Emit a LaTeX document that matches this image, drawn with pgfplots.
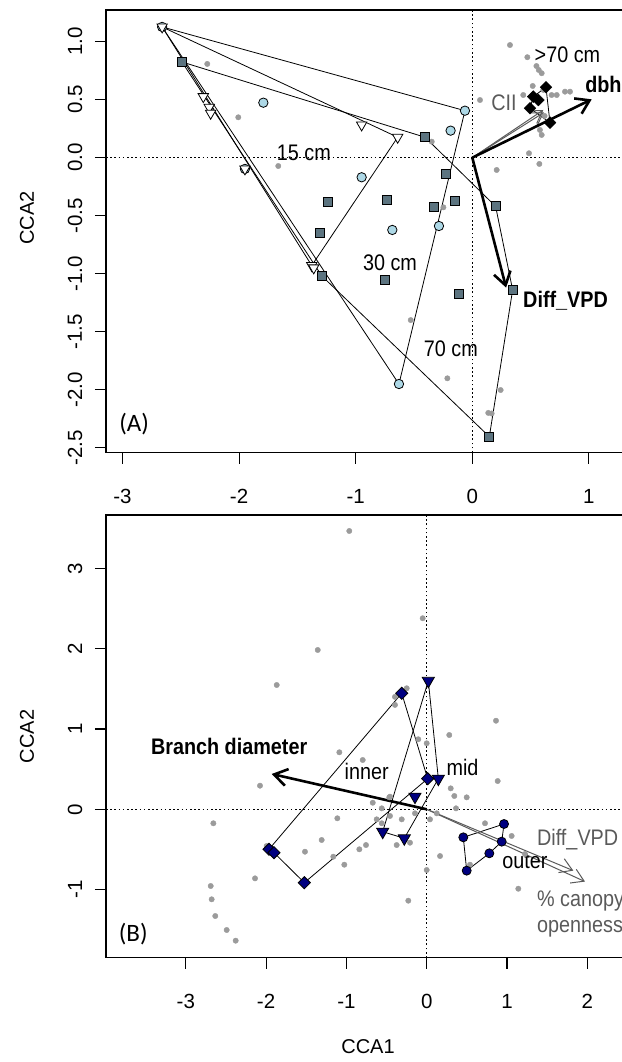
\documentclass[border=0pt]{standalone}
\usepackage{fontspec}
\setmainfont{Liberation Sans}
\newfontfamily\narrowfont[FakeStretch=0.88]{Liberation Sans}
\newfontfamily\panelfont{Carlito}
\usepackage{pgfplots}
\pgfplotsset{compat=1.18}
\usetikzlibrary{arrows.meta}

\definecolor{ptgray}{RGB}{155,155,155}
\definecolor{lblue}{RGB}{173,216,230}
\definecolor{slate}{RGB}{92,116,128}
\definecolor{navyb}{RGB}{0,0,128}
\definecolor{txtgray}{RGB}{90,90,90}

\tikzset{
  lab/.style={font=\narrowfont\fontsize{22.5}{22.5}\selectfont},
  blab/.style={font=\narrowfont\bfseries\fontsize{22.5}{22.5}\selectfont},
}

\pgfplotsset{
  cca/.style={
    scale only axis, width=524pt, height=442.7pt, anchor=south west,
    clip=false, axis line style={line width=1.1pt},
    tick align=outside, major tick length=11pt,
    xtick pos=left, ytick pos=left,
    tick style={line width=1.1pt, black},
    tick label style={font=\fontsize{20.5}{20.5}\selectfont},
    xticklabel style={anchor=center, yshift=-33pt},
    yticklabel style={xshift=-20pt, rotate=90, anchor=center},
    every axis y label/.style={at={(rel axis cs:0,0.5)}, xshift=-79pt, rotate=90, anchor=center, font=\fontsize{20}{20}\selectfont},
    every axis x label/.style={at={(rel axis cs:0.5,0)}, yshift=-89pt, anchor=center, font=\fontsize{20}{20}\selectfont},
    ylabel={CCA2},
  },
  gpt/.style={only marks, mark=*, mark size=2.7pt, color=ptgray, mark options={draw=none, fill=ptgray}},
  hull/.style={black, line width=0.8pt, mark=none},
  bigarrow/.style={black, line width=2.6pt, mark=none, -{Straight Barb[length=13pt,width=17pt]}},
  grayarrow/.style={txtgray, line width=1pt, mark=none, -{Straight Barb[length=12pt,width=15pt]}},
  zero/.style={black, line width=0.9pt, mark=none, dash pattern=on 1.6pt off 2.6pt},
}

\begin{document}
\begin{tikzpicture}[x=1pt,y=1pt]
\path[use as bounding box] (0,0) rectangle (621,1062);

% ---------------- panel A ----------------
\begin{axis}[cca, at={(106pt,609.3pt)},
  xmin=-3.1415, xmax=1.3525, ymin=-2.543, ymax=1.273,
  xtick={-3,-2,-1,0,1}, xticklabels={-3,-2,-1,0,1},
  ytick={-2.5,-2,-1.5,-1,-0.5,0,0.5,1},
  yticklabels={-2.5,-2.0,-1.5,-1.0,-0.5,0.0,0.5,1.0},
  every axis y label/.append style={at={(rel axis cs:0,0.53)}}]

\addplot[zero] coordinates {(-3.1415,0) (1.3525,0)};
\addplot[zero] coordinates {(0,-2.543) (0,1.273)};

% sample scores
\addplot[gpt] coordinates {
 (-2.273,0.808) (-2.007,0.348) (-1.664,-0.072) (-0.348,0.138) (-0.248,-0.428)
 (-0.528,-1.40) (-0.214,-1.902) (0.243,-2.003) (0.137,-2.20) (0.166,-2.205)
 (0.323,0.971) (0.472,0.866) (0.55,0.79) (0.57,0.756) (0.595,0.728)
 (0.437,0.54) (0.68,0.54) (0.724,0.54) (0.795,0.569) (0.838,0.569)
 (0.066,0.497) (0.58,0.239) (0.595,0.196) (0.486,0.038) (0.575,-0.054)
 (0.209,-0.106) (0.518,0.618) (0.609,0.584) (0.575,0.497) (0.62,0.36)
};

% group markers
\addplot[only marks, mark=*, mark size=4.7pt, mark options={fill=lblue, draw=black, line width=0.8pt}] coordinates {
 (-2.66,1.127) (-1.792,0.474) (-1.95,-0.097) (-0.063,0.405) (-0.186,0.233)
 (-0.949,-0.169) (-0.686,-0.623) (-0.286,-0.589) (-0.629,-1.951)
};
\addplot[only marks, mark=square*, mark size=4.5pt, mark options={fill=slate, draw=black, line width=0.8pt}] coordinates {
 (-2.49,0.825) (-1.235,-0.385) (-1.306,-0.652) (-0.729,-0.365) (-0.328,-0.428)
 (-0.226,-0.14) (-0.405,0.176) (-1.29,-1.02) (-0.749,-1.054) (0.2,-0.42)
 (-0.148,-0.37) (-0.111,-1.175) (0.346,-1.14) (0.146,-2.405)
};
\addplot[only marks, mark=triangle*, mark size=6pt, mark options={fill=white, draw=black, line width=0.8pt, rotate=180}] coordinates {
 (-2.66,1.127) (-2.307,0.526) (-2.256,0.434) (-2.244,0.383) (-1.95,-0.097)
 (-1.377,-0.93) (-1.36,-0.95) (-0.949,0.282) (-0.64,0.176)
};
\addplot[only marks, mark=square*, mark size=4.2pt, mark options={fill=black, draw=black, rotate=45}] coordinates {
 (0.632,0.607) (0.523,0.526) (0.566,0.497) (0.495,0.426) (0.666,0.302)
};

% hulls
\addplot[hull] coordinates {(-2.66,1.127) (-0.64,0.176) (-1.377,-0.93) (-2.66,1.127)};
\addplot[hull] coordinates {(-2.66,1.127) (-0.063,0.405) (-0.629,-1.951) (-2.66,1.127)};
\addplot[hull] coordinates {(-2.49,0.825) (-0.405,0.176) (0.2,-0.42) (0.346,-1.14) (0.146,-2.405) (-1.29,-1.02) (-2.49,0.825)};
\addplot[hull] coordinates {(0.632,0.607) (0.666,0.302) (0.495,0.426) (0.523,0.526) (0.632,0.607)};

% environmental vectors
\addplot[grayarrow] coordinates {(0,0) (0.609,0.411)};
\addplot[grayarrow] coordinates {(0,0) (0.615,0.39)};
\addplot[bigarrow] coordinates {(0,0) (1.024,0.503)};
\addplot[bigarrow] coordinates {(0,0) (0.29,-1.12)};

\node[lab] at (axis cs:-1.445,0.045) {15 cm};
\node[lab] at (axis cs:-0.706,-0.91) {30 cm};
\node[lab] at (axis cs:-0.184,-1.651) {70 cm};
\node[lab] at (axis cs:0.816,0.885) {>70 cm};
\node[lab, text=txtgray] at (axis cs:0.272,0.471) {CII};
\node[blab, anchor=west, inner sep=0pt] at (axis cs:0.967,0.627) {dbh};
\node[blab, anchor=west, inner sep=0pt] at (axis cs:0.435,-1.235) {Diff\_VPD};
\node[font=\panelfont\fontsize{25}{25}\selectfont] at (axis cs:-2.90,-2.30) {(A)};
\end{axis}

% ---------------- panel B ----------------
\begin{axis}[cca, at={(106pt,104.3pt)},
  xmin=-3.994, xmax=2.532, ymin=-1.848, ymax=3.665,
  xtick={-3,-2,-1,0,1,2}, xticklabels={-3,-2,-1,0,1,2},
  ytick={-1,0,1,2,3}, yticklabels={-1,0,1,2,3},
  xlabel={CCA1}]

\addplot[zero] coordinates {(-3.994,0) (2.532,0)};
\addplot[zero] coordinates {(0,-1.848) (0,3.665)};

\addplot[gpt] coordinates {
 (-1.357,1.984) (-1.868,1.548) (-1.088,0.71) (-2.076,0.294) (-0.05,2.379)
 (-0.249,1.507) (-0.395,1.40) (-0.395,1.30) (0.863,1.103) (0.281,0.925)
 (-0.105,0.872) (0.0,0.822) (-0.797,0.614) (0.884,0.352) (0.299,0.261)
 (0.344,0.166) (0.498,0.149) (-0.466,0.149) (-0.672,0.082) (-0.56,0.012)
 (0.365,0.012) (-2.657,-0.174) (-1.113,-0.112) (-0.623,-0.125) (-0.56,-0.174)
 (-0.311,-0.125) (0.041,-0.125) (0.726,-0.174) (1.058,-0.332) (-1.308,-0.382)
 (-0.756,-0.445) (-0.839,-0.498) (-0.374,-0.445) (-0.208,-0.416) (-1.516,-0.528)
 (-1.163,-0.59) (0.166,-0.582) (0.539,-0.69) (-1.026,-0.69) (0.0,-0.756)
 (-2.138,-0.86) (1.141,-0.989) (-2.69,-0.955) (-2.678,-1.121) (-2.633,-1.329)
 (-2.491,-1.503) (-2.379,-1.636) (-0.229,-1.138) (-1.993,-0.457) (-0.457,-0.083)
 (-0.146,-0.05) (0.125,-0.05) (1.224,-0.557) (-0.964,3.466) (-0.457,0.157)
};

\addplot[only marks, mark=square*, mark size=4.3pt, mark options={fill=navyb, draw=black, line width=0.8pt, rotate=45}] coordinates {
 (-0.311,1.445) (0.012,0.381) (-1.964,-0.498) (-1.902,-0.54) (-1.524,-0.914)
};
\addplot[only marks, mark=triangle*, mark size=7pt, mark options={fill=navyb, draw=black, line width=0.8pt, rotate=180}] coordinates {
 (0.02,1.60) (0.145,0.381) (-0.146,0.157) (-0.548,-0.279) (-0.279,-0.361)
};
\addplot[only marks, mark=*, mark size=4.5pt, mark options={fill=navyb, draw=black, line width=0.8pt}] coordinates {
 (0.963,-0.183) (0.456,-0.349) (0.934,-0.403) (0.78,-0.548) (0.498,-0.764)
};

\addplot[hull] coordinates {(-0.311,1.445) (0.012,0.381) (-1.524,-0.914) (-1.902,-0.54) (-1.964,-0.498) (-0.311,1.445)};
\addplot[hull] coordinates {(0.02,1.60) (0.145,0.381) (-0.279,-0.361) (-0.548,-0.279) (0.02,1.60)};
\addplot[hull] coordinates {(0.963,-0.183) (0.934,-0.403) (0.78,-0.548) (0.498,-0.764) (0.456,-0.349) (0.963,-0.183)};

\addplot[grayarrow] coordinates {(0,0) (1.826,-0.764)};
\addplot[grayarrow] coordinates {(0,0) (1.971,-0.90)};
\addplot[bigarrow] coordinates {(0,0) (-1.93,0.44)};

\node[blab] at (axis cs:-2.46,0.78) {Branch diameter};
\node[lab] at (axis cs:-0.747,0.477) {inner};
\node[lab] at (axis cs:0.446,0.52) {mid};
\node[lab] at (axis cs:1.224,-0.644) {outer};
\node[lab, text=txtgray, anchor=west, inner sep=0pt] at (axis cs:1.373,-0.382) {Diff\_VPD};
\node[lab, text=txtgray, anchor=west, inner sep=0pt] at (axis cs:1.373,-1.14) {\% canopy};
\node[lab, text=txtgray, anchor=west, inner sep=0pt] at (axis cs:1.373,-1.49) {openness};
\node[font=\panelfont\fontsize{25}{25}\selectfont] at (axis cs:-3.654,-1.553) {(B)};
\end{axis}
\end{tikzpicture}
\end{document}
